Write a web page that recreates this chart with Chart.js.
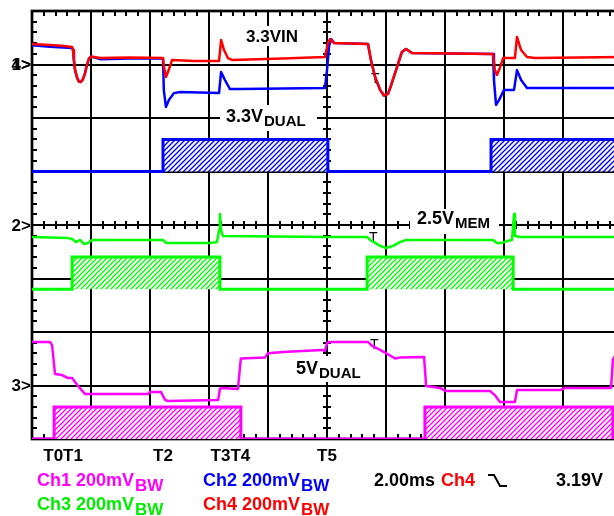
<!DOCTYPE html>
<html>
<head>
<meta charset="utf-8">
<script src="https://cdn.jsdelivr.net/npm/chart.js@4.4.1/dist/chart.umd.min.js"></script>
<style>
  html, body { margin: 0; padding: 0; background: #fff; overflow: hidden; width: 614px; height: 516px; }
  canvas { display: block; }
</style>
</head>
<body>
<canvas id="c" width="640" height="516" style="width:640px;height:516px"></canvas>
<script>
// ---- Data (time in ms, level in mV relative to each channel's ground marker) ----
const VOLTS_PER_DIV_MV = 200;
const MS_PER_DIV = 2;

// Ch4: 3.3VIN (red), marker at division 7
const ch4Vin = [[0,77],[0.61,73],[1.0,70],[1.36,65],[1.39,54],[1.42,17],[1.46,-21],[1.53,-50],[1.59,-64],[1.66,-65],[1.73,-54],[1.80,-32],[1.86,-2],[1.93,21],[2.0,30],[2.31,24],[3.3,26],[4.44,24],[4.47,-6],[4.54,-47],[4.61,-28],[4.75,17],[5.5,13],[6.34,13],[6.41,92],[6.51,54],[6.64,24],[6.78,17],[8.5,22],[9.93,28],[10.03,80],[10.10,95],[10.24,80],[11.39,77],[11.49,17],[11.63,-47],[11.80,-95],[11.93,-116],[12.07,-110],[12.14,-88],[12.34,-21],[12.54,47],[12.68,58],[12.88,43],[15.63,39],[15.69,-21],[15.76,-39],[15.86,-13],[15.97,24],[16.37,24],[16.44,103],[16.58,54],[16.78,28],[17.05,24],[20,28]];
// Ch2: 3.3V DUAL (blue), marker at division 7
const ch2Dual33 = [[0,72],[0.61,66],[1.36,62],[1.39,54],[1.42,17],[1.46,-21],[1.53,-50],[1.59,-64],[1.66,-65],[1.73,-54],[1.80,-32],[1.86,-2],[1.93,21],[2.0,30],[2.31,20],[3.3,22],[4.44,22],[4.47,-97],[4.54,-159],[4.64,-133],[4.81,-107],[5.02,-103],[6.34,-107],[6.41,-28],[6.54,-58],[6.71,-92],[7.05,-92],[9.93,-88],[10.0,-21],[10.07,69],[10.14,95],[10.24,80],[11.39,77],[11.49,17],[11.63,-47],[11.80,-95],[11.93,-116],[12.07,-110],[12.14,-88],[12.34,-21],[12.54,47],[12.68,58],[12.88,43],[15.63,39],[15.66,-58],[15.73,-151],[15.83,-133],[16.0,-95],[16.34,-95],[16.44,-21],[16.58,-58],[16.78,-88],[20,-88]];
// Ch3: 2.5V MEM (green), marker at division 4
const ch3Mem25 = [[0,-45],[1.22,-49],[1.36,-52],[1.49,-64],[1.63,-56],[1.76,-71],[1.90,-67],[2.03,-56],[4.44,-56],[4.54,-67],[6.03,-67],[6.27,-64],[6.34,-19],[6.37,41],[6.41,-19],[6.47,-41],[9.97,-45],[11.36,-45],[11.46,-56],[11.63,-67],[11.80,-78],[12.0,-86],[12.24,-78],[12.47,-64],[12.68,-56],[15.63,-56],[15.76,-67],[15.93,-67],[16.10,-60],[16.27,-56],[16.34,41],[16.37,-41],[16.54,-45],[20,-45]];
// Ch1: 5V DUAL (magenta), marker at division 1
const ch1Dual5 = [[0,163],[0.61,163],[0.68,151],[0.78,43],[1.02,39],[1.22,28],[1.36,28],[1.56,-2],[1.80,-32],[3.93,-32],[4.0,-24],[4.37,-24],[4.51,-54],[4.61,-58],[6.31,-54],[6.37,-13],[6.44,-9],[6.98,-13],[7.08,101],[7.90,105],[8.0,121],[8.51,125],[9.83,133],[9.93,129],[10.0,159],[10.10,163],[11.39,163],[11.53,148],[11.80,133],[12.0,121],[12.31,101],[12.47,105],[13.29,107],[13.36,-2],[13.83,-9],[14.03,-21],[15.53,-21],[15.69,-36],[15.86,-62],[16.37,-62],[16.44,-17],[17.90,-17],[18.07,-9],[19.63,-9],[19.69,97],[19.76,110],[20,118]];

// Channel ground markers (screen divisions from bottom)
const markerDivs = { ch4: 7, ch2: 7, ch3: 4, ch1: 1 };
const markerLabels = [['1>', 7], ['4>', 7], ['2>', 4], ['3>', 1]];

// Enable windows (ms) and their drawn low/high levels (divisions)
const enDual33 = [[4.44, 10.03], [15.56, 20]];
const enMem25 = [[1.36, 6.37], [11.36, 16.31]];
const enDual5 = [[0.75, 7.08], [13.32, 19.69]];
const enLevelsDual33 = [5.0, 5.6];
const enLevelsMem25 = [2.8, 3.4];
const enLevelsDual5 = [0.0, 0.6];

// Event markers
const eventLabels = ['T0T1', 'T2', 'T3T4', 'T5'];
const eventTimes = [1.055, 4.44, 6.725, 10.0];

// ---- Build ----
const RED = '#ff0000', BLUE = '#0000ff', GREEN = '#00ff00', MAG = '#ff00ff';
const FONT = '"Liberation Sans", Arial, sans-serif';

function toPts(arr, marker) {
  return arr.map(([t, mv]) => ({ x: t, y: marker + mv / VOLTS_PER_DIV_MV }));
}
function enablePts(windows, levels) {
  const [lo, hi] = levels;
  const pts = [{ x: 0, y: lo }];
  windows.forEach(([a, b]) => {
    pts.push({ x: a, y: lo }, { x: a, y: hi }, { x: b, y: hi });
    if (b < 20) pts.push({ x: b, y: lo });
  });
  if (pts[pts.length - 1].x < 20) pts.push({ x: 20, y: lo });
  return pts;
}
function hatch(color) {
  const n = 5;
  const c = document.createElement('canvas');
  c.width = n; c.height = n;
  const g = c.getContext('2d');
  g.fillStyle = '#fff'; g.fillRect(0, 0, n, n);
  g.strokeStyle = color; g.lineWidth = 1.4;
  g.beginPath();
  g.moveTo(-1, n + 1); g.lineTo(n + 1, -1);
  g.moveTo(-1, 1); g.lineTo(1, -1);
  g.moveTo(n - 1, n + 1); g.lineTo(n + 1, n - 1);
  g.stroke();
  return g.createPattern(c, 'repeat');
}

function traceDs(pts, color, order) {
  return { data: pts, borderColor: color, borderWidth: 2.5, pointRadius: 0, tension: 0, fill: false, order: order, borderJoinStyle: 'round' };
}
function enableDs(pts, color, lo, order) {
  return { data: pts, borderColor: color, borderWidth: 3, pointRadius: 0, tension: 0, fill: { value: lo }, backgroundColor: hatch(color), order: order, borderJoinStyle: 'miter' };
}

function drawSub(ctx, main, sub, x, y, color, mainSize, subSize, dy) {
  ctx.fillStyle = color;
  ctx.font = 'bold ' + mainSize + 'px ' + FONT;
  ctx.textAlign = 'left'; ctx.textBaseline = 'alphabetic';
  ctx.fillText(main, x, y);
  const w = ctx.measureText(main).width;
  ctx.font = 'bold ' + subSize + 'px ' + FONT;
  ctx.fillText(sub, x + w + 1, y + dy);
}

const scopePlugin = {
  id: 'scope',
  beforeDatasetsDraw(chart) {
    const ctx = chart.ctx, xs = chart.scales.x, ys = chart.scales.y;
    const L = xs.getPixelForValue(0), R = xs.getPixelForValue(20);
    const T = ys.getPixelForValue(8), B = ys.getPixelForValue(0);
    ctx.save();
    ctx.strokeStyle = '#000';
    // grid
    ctx.lineWidth = 2;
    ctx.beginPath();
    for (let i = 1; i < 10; i++) { const x = Math.round(xs.getPixelForValue(i * MS_PER_DIV)); ctx.moveTo(x, T); ctx.lineTo(x, B); }
    for (let j = 1; j < 8; j++) { const y = Math.round(ys.getPixelForValue(j)); ctx.moveTo(L, y); ctx.lineTo(R, y); }
    ctx.stroke();
    // border
    ctx.lineWidth = 2.7;
    ctx.strokeRect(L, T, R - L, B - T);
    // minor ticks
    ctx.lineWidth = 2;
    ctx.beginPath();
    const cy = Math.round(ys.getPixelForValue(4)), cx = Math.round(xs.getPixelForValue(10));
    for (let k = 1; k < 50; k++) {
      const x = Math.round(xs.getPixelForValue(k * MS_PER_DIV / 5));
      ctx.moveTo(x, cy - 4); ctx.lineTo(x, cy + 4);
      ctx.moveTo(x, T); ctx.lineTo(x, T + 5);
      ctx.moveTo(x, B); ctx.lineTo(x, B - 5);
    }
    for (let k = 1; k < 40; k++) {
      const y = Math.round(ys.getPixelForValue(k * 0.2));
      ctx.moveTo(cx - 4, y); ctx.lineTo(cx + 4, y);
      ctx.moveTo(L, y); ctx.lineTo(L + 5, y);
      ctx.moveTo(R, y); ctx.lineTo(R - 5, y);
    }
    ctx.stroke();

    // white label backgrounds
    ctx.fillStyle = '#fff';
    ctx.fillRect(243, 26, 59, 20);
    ctx.fillRect(220, 105, 97, 26);
    ctx.fillRect(410, 209, 89, 25);
    ctx.fillRect(292, 356, 73, 26);

    // in-plot labels
    ctx.fillStyle = '#000';
    ctx.font = 'bold 17px ' + FONT;
    ctx.textAlign = 'left';
    ctx.fillText('3.3VIN', 246, 42);
    drawSub(ctx, '3.3V', 'DUAL', 226, 122, '#000', 18, 15, 4);
    drawSub(ctx, '2.5V', 'MEM', 417, 224, '#000', 18, 15, 4);
    drawSub(ctx, '5V', 'DUAL', 296, 374, '#000', 18, 15, 4);

    // trigger markers
    ctx.fillStyle = '#000';
    ctx.font = '14px ' + FONT;
    ctx.fillText('T', 371, 83);
    ctx.fillText('T', 369, 242);
    ctx.fillText('T', 370, 349);
    ctx.font = 'bold 14px ' + FONT;
    ctx.fillText('<', 606, 151);

    // channel markers
    ctx.font = 'bold 17px ' + FONT;
    ctx.textAlign = 'right';
    ctx.textBaseline = 'middle';
    markerLabels.forEach(([txt, d]) => ctx.fillText(txt, L - 1, ys.getPixelForValue(d) + 1));

    // event labels
    ctx.textAlign = 'center';
    ctx.textBaseline = 'alphabetic';
    ctx.font = 'bold 17px ' + FONT;
    eventLabels.forEach((t, i) => ctx.fillText(t, xs.getPixelForValue(eventTimes[i]), 461));

    // readout
    drawSub(ctx, 'Ch1 200mV', 'BW', 37, 486, MAG, 18, 17, 5);
    drawSub(ctx, 'Ch2 200mV', 'BW', 203, 486, BLUE, 18, 17, 5);
    drawSub(ctx, 'Ch3 200mV', 'BW', 37, 510, '#00ee00', 18, 17, 5);
    drawSub(ctx, 'Ch4 200mV', 'BW', 203, 510, RED, 18, 17, 5);
    ctx.font = 'bold 18px ' + FONT;
    ctx.textAlign = 'left';
    ctx.fillStyle = '#000';
    ctx.fillText('2.00ms', 374, 486);
    ctx.fillStyle = RED;
    ctx.fillText('Ch4', 441, 486);
    ctx.fillStyle = '#000';
    ctx.fillText('3.19V', 556, 486);
    ctx.lineWidth = 2;
    ctx.beginPath();
    ctx.moveTo(488, 475); ctx.lineTo(494, 475); ctx.lineTo(500, 486); ctx.lineTo(507, 486);
    ctx.stroke();
    ctx.restore();
  }
};

new Chart(document.getElementById('c'), {
  type: 'line',
  data: {
    datasets: [
      traceDs(toPts(ch4Vin, markerDivs.ch4), RED, 0),
      traceDs(toPts(ch2Dual33, markerDivs.ch2), BLUE, 1),
      traceDs(toPts(ch3Mem25, markerDivs.ch3), GREEN, 2),
      traceDs(toPts(ch1Dual5, markerDivs.ch1), MAG, 3),
      enableDs(enablePts(enDual33, enLevelsDual33), BLUE, enLevelsDual33[0], 4),
      enableDs(enablePts(enMem25, enLevelsMem25), GREEN, enLevelsMem25[0], 5),
      enableDs(enablePts(enDual5, enLevelsDual5), MAG, enLevelsDual5[0], 6)
    ]
  },
  options: {
    responsive: false,
    animation: false,
    devicePixelRatio: 1,
    layout: { padding: { left: 32, top: 11, right: 18, bottom: 77 } },
    scales: {
      x: { type: 'linear', min: 0, max: 20, display: false },
      y: { type: 'linear', min: 0, max: 8, display: false }
    },
    plugins: { legend: { display: false }, tooltip: { enabled: false }, title: { display: false } }
  },
  plugins: [scopePlugin]
});
</script>
</body>
</html>
